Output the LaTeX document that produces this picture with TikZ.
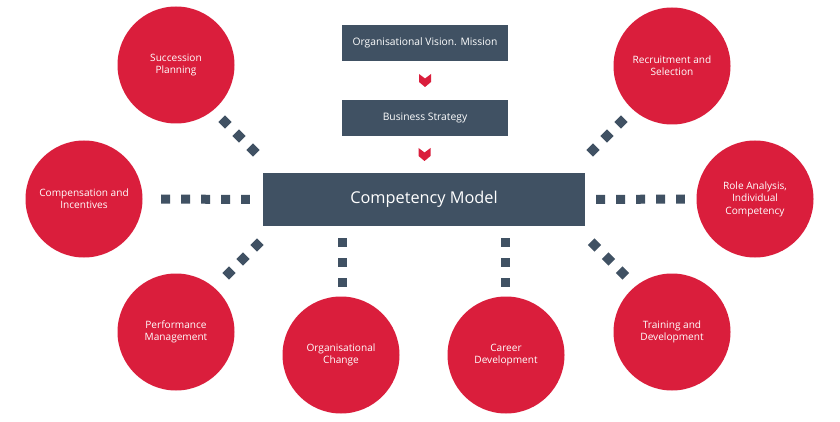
\documentclass[tikz,border=0pt]{standalone}
\usepackage{fontspec}
\setmainfont{Open Sans}
\usetikzlibrary{calc}
\definecolor{crim}{RGB}{218,30,60}
\definecolor{slate}{RGB}{64,81,99}
\tikzset{
  circ/.style={circle, fill=crim, minimum size=117pt, inner sep=0pt, text=white, align=center, font=\fontsize{10.1}{12.4}\selectfont},
  sbox/.style={rectangle, fill=slate, minimum width=166pt, minimum height=36pt, inner sep=0pt, text=white, font=\fontsize{10.3}{12}\selectfont},
  dotsq/.style={draw=slate, line width=9pt, dash pattern=on 9pt off 11pt},
  dotdi/.style={draw=slate, line width=9.4pt, dash pattern=on 9.4pt off 10.4pt},
  chev/.style={fill=crim}
}
\begin{document}
\begin{tikzpicture}[x=1pt,y=-1pt]
\useasboundingbox (0,0) rectangle (840,422);
\fill[white] (0,0) rectangle (840,422);
% boxes
\node[sbox] (ov) at (425,43) {Organisational Vision. Mission};
\node[sbox] (bs) at (425,118) {Business Strategy};
\node[rectangle, fill=slate, minimum width=322pt, minimum height=53pt, inner sep=0pt, text=white, font=\fontsize{16.3}{18}\selectfont] (cm) at (424,199.5) {Competency Model};
% circles
\node[circ] (sp) at (176,65) {Succession\\Planning};
\node[circ] (rs) at (672,66) {Recruitment and\\Selection};
\node[circ] (ce) at (84,199) {Compensation and\\Incentives};
\node[circ] (ra) at (755,199) {Role Analysis,\\Individual\\Competency};
\node[circ] (pm) at (176,332) {Performance\\Management};
\node[circ] (oc) at (341,355) {Organisational\\Change};
\node[circ] (cd) at (506,355) {Career\\Development};
\node[circ] (td) at (672,332) {Training and\\Development};
% chevrons
\coordinate (c1) at ($(ov.south)!0.5!(bs.north)$);
\coordinate (c2) at ($(bs.south)!0.5!(cm.north)$);
\foreach \c in {c1,c2}{
  \fill[chev] (\c) ++(-6,-6.5) -- ++(6,4.5) -- ++(6,-4.5) -- ++(0,8) -- ++(-6,5) -- ++(-6,-5) -- cycle;
}
% straight dotted connectors
\draw[dotsq] ($(ce.east)+(18.5,0)$) -- ($(cm.west)+(-13,0)$);
\draw[dotsq] ($(cm.east)+(11,0)$) -- ($(ra.west)+(-11.5,0)$);
\coordinate (v1a) at (342,238);
\coordinate (v1b) at (342,287);
\coordinate (v2a) at (505.5,238);
\coordinate (v2b) at (505.5,287);
\draw[dotsq] (v1a) -- (v1b);
\draw[dotsq] (v2a) -- (v2b);
% diagonal dotted connectors
\coordinate (ula) at (221.7,118.7);
\coordinate (ulb) at (256.3,153.3);
\coordinate (ura) at (624.3,118.7);
\coordinate (urb) at (589.7,153.3);
\coordinate (lla) at (260.3,241.7);
\coordinate (llb) at (225.7,276.3);
\coordinate (lra) at (591.2,241.7);
\coordinate (lrb) at (625.8,276.3);
\draw[dotdi] (ula) -- (ulb);
\draw[dotdi] (ura) -- (urb);
\draw[dotdi] (lla) -- (llb);
\draw[dotdi] (lra) -- (lrb);
\end{tikzpicture}
\end{document}
